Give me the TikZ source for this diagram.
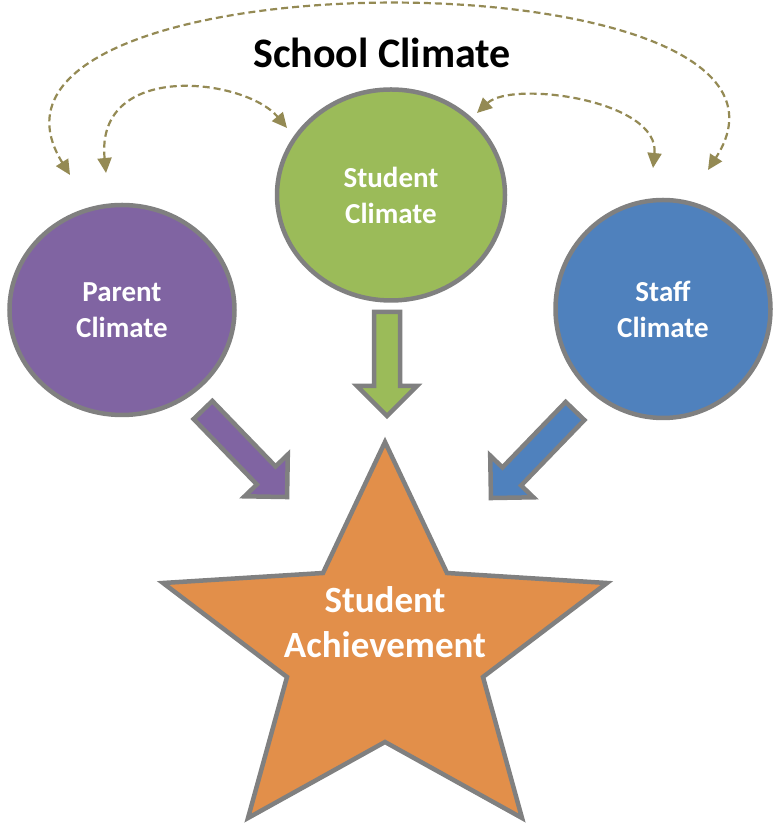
\documentclass[tikz,border=0pt]{standalone}
\usepackage{fontspec}
\setmainfont{Carlito}
\usepackage{tikz}
\usetikzlibrary{positioning, arrows.meta, shapes.geometric}
\definecolor{ParentColor}{RGB}{128,100,162}
\definecolor{StudentColor}{RGB}{155,187,89}
\definecolor{StaffColor}{RGB}{79,129,189}
\definecolor{StarColor}{RGB}{226,143,74}
\definecolor{BorderColor}{RGB}{128,128,128}
\definecolor{LinkColor}{RGB}{148,138,84}
\tikzstyle{climate} = [ellipse, draw=BorderColor, line width=4.5pt, text=white, font=\fontsize{29}{36}\selectfont\bfseries, align=center, inner sep=0pt]
\tikzstyle{link} = [LinkColor, line width=2.2pt, dash pattern=on 7pt off 4pt, {Triangle[length=15pt,width=14pt]}-{Triangle[length=15pt,width=14pt]}]
\tikzstyle{fatarrow} = [draw=BorderColor, line width=4.5pt, line join=miter]
% block arrow: tail, angle, length, colour
\newcommand{\blockarrow}[4]{\draw[fatarrow, fill=#4, shift={#1}, rotate=#2] (0,-13) -- (#3-30,-13) -- (#3-30,-30) -- (#3,0) -- (#3-30,30) -- (#3-30,13) -- (0,13) -- cycle;}

\begin{document}
\begin{tikzpicture}[x=1pt, y=1pt]
    \useasboundingbox (0,0) rectangle (773,826);

    % Title
    \node[font=\fontsize{42}{50}\selectfont\bfseries, anchor=base] (title) at (382,758) {School Climate};

    % Climate circles
    \node[climate, fill=ParentColor, minimum width=225pt, minimum height=210pt] (parent) at (122,516) {Parent\\Climate};
    \node[climate, fill=StudentColor, minimum width=228pt, minimum height=211pt] (student) at (391,631) {Student\\Climate};
    \node[climate, fill=StaffColor, minimum width=215pt, minimum height=218pt] (staff) at (663,517) {Staff\\Climate};

    % Star
    \draw[draw=BorderColor, line width=4.5pt, fill=StarColor, line join=miter] (385,384) -- (447,253) -- (607,243) -- (483,149) -- (522,8) -- (385,84) -- (248,8) -- (287,149) -- (163,243) -- (323,253) -- cycle;
    \node[font=\fontsize{37}{45}\selectfont\bfseries, text=white, align=center] (achievement) at (385,204) {Student\\Achievement};

    % Block arrows into the star
    \coordinate (parentTail) at (203,416);
    \coordinate (studentTail) at (387,514);
    \coordinate (staffTail) at (575,415);
    \blockarrow{(parentTail)}{-46}{121}{ParentColor}
    \blockarrow{(studentTail)}{-90}{104}{StudentColor}
    \blockarrow{(staffTail)}{-134}{121}{StaffColor}

    % Dashed links between climates
    \coordinate (parentFar) at (70,651);
    \coordinate (staffFar) at (708,656);
    \coordinate (parentNear) at (106,653);
    \coordinate (studentLeft) at (287,698);
    \coordinate (studentRight) at (477,713);
    \coordinate (staffNear) at (653,658);
    \draw[link] (parentFar) .. controls (-70,876) and (850,876) .. (staffFar);
    \draw[link] (parentNear) .. controls (95,766) and (245,748) .. (studentLeft);
    \draw[link] (studentRight) .. controls (512,746) and (660,726) .. (staffNear);
\end{tikzpicture}
\end{document}
